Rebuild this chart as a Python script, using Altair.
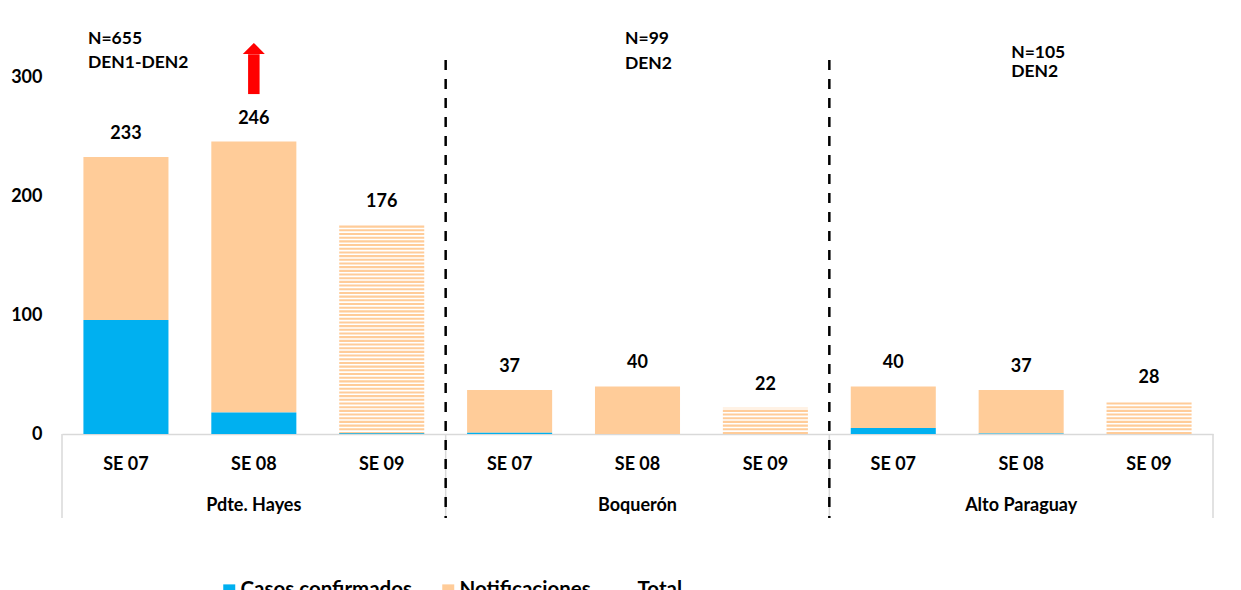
import altair as alt
import pandas as pd

# ---------------- data ----------------
regions = ["Pdte. Hayes", "Boquerón", "Alto Paraguay"]
weeks = ["SE 07", "SE 08", "SE 09"]
totals = [233, 246, 176, 37, 40, 22, 40, 37, 28]
confirmed = [96, 18, 0.6, 1, 0, 0, 5, 0.5, 0]
n_line1 = ["N=655", "N=99", "N=105"]
n_line2 = ["DEN1-DEN2", "DEN2", "DEN2"]
series_names = ["Casos confirmados", "Notificaciones", "Total"]
series_colors = ["#00B0F0", "#FFCC99", "#FFFFFF"]

FONT = "Lato"
ORANGE = series_colors[1]

keys = [f"{r}|{w}" for r in regions for w in weeks]

bar_rows, stripe_rows, label_rows = [], [], []
STEP = 3.1  # stripe period in data units (pattern fill of the current week)
for i, key in enumerate(keys):
    week = key.split("|")[1]
    tot, conf = totals[i], confirmed[i]
    label_rows.append({"key": key, "total": tot})
    if week == "SE 09":
        k = 0
        while k * STEP < tot:
            y0 = k * STEP
            stripe_rows.append({"key": key, "y0": y0, "y1": min(y0 + 1.75, tot)})
            k += 1
    else:
        bar_rows.append({"key": key, "series": series_names[1], "y0": conf, "y1": tot})
    if conf > 0:
        bar_rows.append({"key": key, "series": series_names[0], "y0": 0, "y1": conf})

bars_df = pd.DataFrame(bar_rows)
stripes_df = pd.DataFrame(stripe_rows)
labels_df = pd.DataFrame(label_rows)
regions_df = pd.DataFrame({"key": [f"{r}|SE 08" for r in regions], "region": regions})

xscale = alt.Scale(domain=keys, paddingInner=0, paddingOuter=0)
yscale = alt.Scale(domain=[0, 350], nice=False)

XAXIS = alt.Axis(title=None, labelExpr="split(datum.label, '|')[1]", labelFont=FONT,
                 labelFontSize=18, labelFontWeight="bold", labelColor="black", ticks=False,
                 domainColor="#D9D9D9", domainWidth=1.5, labelPadding=21, labelAngle=0,
                 labelAlign="center", bandPosition=0.5, grid=False)
YAXIS = alt.Axis(title=None, values=[0, 100, 200, 300], domain=False, ticks=False, grid=False,
                 labelFont=FONT, labelFontSize=18, labelFontWeight="bold", labelColor="black",
                 labelPadding=20)


def xenc(**kw):
    return alt.X("key:N", scale=xscale, sort=keys, axis=XAXIS, **kw)


bars = alt.Chart(bars_df).mark_bar(width={"band": 0.665}).encode(
    x=xenc(), y=alt.Y("y0:Q", scale=yscale, axis=YAXIS), y2="y1:Q",
    color=alt.Color(
        "series:N",
        scale=alt.Scale(domain=series_names, range=series_colors),
        legend=alt.Legend(orient="none", legendX=157, legendY=562, direction="horizontal",
                          title=None, symbolType="square", symbolSize=144, labelFontSize=20.5,
                          labelFont=FONT, labelFontWeight="bold", labelColor="black",
                          labelLimit=400, columnPadding=25, labelOffset=1,
                          symbolStrokeWidth=0, padding=0),
    ),
)

stripes = alt.Chart(stripes_df).mark_bar(width={"band": 0.665}, color=ORANGE).encode(
    x=xenc(), y=alt.Y("y0:Q", scale=yscale, axis=YAXIS), y2="y1:Q"
)

values = alt.Chart(labels_df).mark_text(
    dy=-23, baseline="middle", fontSize=18, fontWeight="bold", font=FONT, color="black"
).encode(x=xenc(), y=alt.Y("total:Q", scale=yscale, axis=YAXIS), text="total:Q")

region_text = alt.Chart(regions_df).mark_text(
    baseline="middle", fontSize=18, fontWeight="bold", font=FONT, color="black"
).encode(x=xenc(), y=alt.value(488), text="region:N")

left_bounds = alt.Chart(pd.DataFrame({"key": [f"{r}|SE 07" for r in regions]})).mark_rule(
    color="#D9D9D9", strokeWidth=1.5
).encode(x=xenc(bandPosition=0), y=alt.value(416), y2=alt.value(500))
right_bound = alt.Chart(pd.DataFrame({"key": [keys[-1]]})).mark_rule(
    color="#D9D9D9", strokeWidth=1.5
).encode(x=xenc(bandPosition=1), y=alt.value(416), y2=alt.value(500))

dashed = alt.Chart(pd.DataFrame({"key": [f"{r}|SE 07" for r in regions[1:]]})).mark_rule(
    color="black", strokeWidth=2.5, strokeDash=[10, 9]
).encode(x=xenc(bandPosition=0), y=alt.value(42), y2=alt.value(500))

ann_layers = []
ann_style = [
    {"key": "Pdte. Hayes|SE 07", "dx": -38, "y1": 332.3, "y2": 312.5},
    {"key": "Boquerón|SE 08", "dx": -12.5, "y1": 332.2, "y2": 311.5},
    {"key": "Alto Paraguay|SE 08", "dx": -10, "y1": 320.3, "y2": 304.6},
]
for t1, t2, st in zip(n_line1, n_line2, ann_style):
    for txt, yv in ((t1, st["y1"]), (t2, st["y2"])):
        ann_layers.append(
            alt.Chart(pd.DataFrame({"key": [st["key"]], "txt": [txt]})).mark_text(
                align="left", baseline="middle", dx=st["dx"], fontSize=17.5, fontWeight="bold",
                font=FONT, color="black"
            ).encode(x=xenc(), y=alt.datum(yv), text="txt:N")
        )

arrow_df = pd.DataFrame({"key": ["Pdte. Hayes|SE 08"]})
shaft = alt.Chart(arrow_df).mark_rule(color="#FF0000", strokeWidth=11.5).encode(
    x=xenc(), y=alt.datum(286), y2=alt.datum(319.5)
)
head = alt.Chart(arrow_df).mark_point(
    shape="M-1,0.5L0,-0.5L1,0.5Z", size=484, filled=True, color="#FF0000", opacity=1,
    strokeWidth=0
).encode(x=xenc(), y=alt.datum(324.4))

chart = alt.layer(
    stripes, bars, values, left_bounds, right_bound, dashed, region_text, *ann_layers, shaft, head
).properties(
    width=1151, height=416,
    padding={"left": 54, "top": 10, "right": 20, "bottom": 156},
    autosize=alt.AutoSizeParams(type="none"),
    background="white",
).configure_view(stroke=None)

chart.save("out.html", embed_options={"renderer": "svg", "actions": False})
